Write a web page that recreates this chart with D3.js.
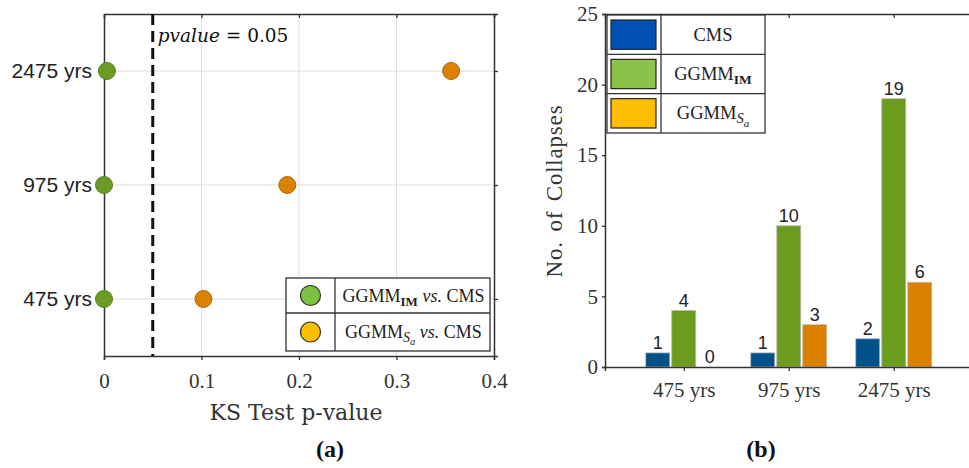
<!DOCTYPE html>
<html>
<head>
<meta charset="utf-8">
<script src="https://cdn.jsdelivr.net/npm/d3@7"></script>
<style>
  html, body { margin: 0; padding: 0; background: #fff; }
  svg { display: block; }
</style>
</head>
<body>
<svg id="fig" width="969" height="468"></svg>
<script>
// Return periods shared by both panels
const returnPeriods = ["475 yrs", "975 yrs", "2475 yrs"];

// (a) KS test p-values against CMS
const pvalIM = [0.0, 0.0, 0.003];
const pvalSa = [0.102, 0.188, 0.356];
const pTicks = [0, 0.1, 0.2, 0.3, 0.4];
const pThreshold = 0.05;

// (b) number of collapses per method
const seriesNames = ["CMS", "GGMM_IM", "GGMM_Sa"];
const collapseCMS = [1, 1, 2];
const collapseIM = [4, 10, 19];
const collapseSa = [0, 3, 6];
const countTicks = [0, 5, 10, 15, 20, 25];

const serif = "'Liberation Serif', 'DejaVu Serif', serif";
const wideSerif = "'DejaVu Serif', 'Liberation Serif', serif";
const sans = "'Liberation Sans', Arial, sans-serif";
const axisColor = "#333";
const gridColor = "#dedede";

const svg = d3.select("#fig");

// ---------- Panel (a): dot plot ----------
const A = { left: 104, right: 494, top: 14, bottom: 356 };
const xA = d3.scaleLinear().domain([0, 0.4]).range([A.left, A.right]);
const yA = d3.scalePoint().domain(returnPeriods).range([A.bottom, A.top]).padding(0.5);

const gA = svg.append("g");

// grid
gA.selectAll("line.vgrid").data(pTicks.slice(1, -1)).join("line")
  .attr("x1", d => xA(d)).attr("x2", d => xA(d))
  .attr("y1", A.top).attr("y2", A.bottom)
  .attr("stroke", gridColor).attr("stroke-width", 1);
gA.selectAll("line.hgrid").data(returnPeriods).join("line")
  .attr("x1", A.left).attr("x2", A.right)
  .attr("y1", d => yA(d)).attr("y2", d => yA(d))
  .attr("stroke", gridColor).attr("stroke-width", 1);

// bottom axis
const axA = gA.append("g").attr("transform", `translate(0,${A.bottom})`)
  .call(d3.axisBottom(xA).tickValues(pTicks).tickSize(4).tickPadding(13)
    .tickFormat(d => d === 0 ? "0" : d3.format(".1f")(d)));
axA.select(".domain").attr("stroke", axisColor).attr("stroke-width", 1.5);
axA.selectAll(".tick line").attr("stroke", axisColor).attr("stroke-width", 1.3);
axA.selectAll(".tick text").attr("font-family", serif).attr("font-size", 21).attr("fill", "#333");

// top axis (ticks inward)
const axAt = gA.append("g").attr("transform", `translate(0,${A.top})`)
  .call(d3.axisTop(xA).tickValues(pTicks).tickSize(-4).tickFormat(""));
axAt.select(".domain").attr("stroke", axisColor).attr("stroke-width", 1.5);
axAt.selectAll(".tick line").attr("stroke", axisColor).attr("stroke-width", 1.3);

// left axis
const ayA = gA.append("g").attr("transform", `translate(${A.left},0)`)
  .call(d3.axisLeft(yA).tickSize(0).tickPadding(12));
ayA.select(".domain").attr("stroke", axisColor).attr("stroke-width", 1.5);
ayA.selectAll(".tick text").attr("font-family", sans).attr("font-size", 21).attr("fill", "#222");

// right axis
const ayAr = gA.append("g").attr("transform", `translate(${A.right},0)`)
  .call(d3.axisRight(yA).tickSize(4).tickFormat(""));
ayAr.select(".domain").attr("stroke", axisColor).attr("stroke-width", 1.5);
ayAr.selectAll(".tick line").attr("stroke", axisColor).attr("stroke-width", 1.3);

// threshold line
gA.append("line")
  .attr("x1", xA(pThreshold)).attr("x2", xA(pThreshold))
  .attr("y1", A.top).attr("y2", A.bottom)
  .attr("stroke", "#111").attr("stroke-width", 3)
  .attr("stroke-dasharray", "11,6");

const pt = gA.append("text")
  .attr("x", xA(pThreshold) + 5).attr("y", 42)
  .attr("font-family", wideSerif).attr("font-size", 18.5).attr("fill", "#111");
pt.append("tspan").attr("font-style", "italic").text("pvalue");
pt.append("tspan").text(" = ");
pt.append("tspan").text(pThreshold.toFixed(2));

// points
gA.selectAll("circle.sa").data(returnPeriods).join("circle")
  .attr("cx", (d, i) => xA(pvalSa[i])).attr("cy", d => yA(d)).attr("r", 8.5)
  .attr("fill", "#dc8200").attr("stroke", "#a86a10").attr("stroke-width", 1);
gA.selectAll("circle.im").data(returnPeriods).join("circle")
  .attr("cx", (d, i) => xA(pvalIM[i])).attr("cy", d => yA(d)).attr("r", 8.5)
  .attr("fill", "#6b9b22").attr("stroke", "#55801a").attr("stroke-width", 1);

// legend (a)
const LA = { x0: 286, x1: 490, xd: 335, y0: 278, ym: 313, y1: 351 };
const legA = gA.append("g");
legA.append("rect").attr("x", LA.x0).attr("y", LA.y0)
  .attr("width", LA.x1 - LA.x0).attr("height", LA.y1 - LA.y0)
  .attr("fill", "#fff").attr("stroke", "#333").attr("stroke-width", 1.3);
legA.append("line").attr("x1", LA.xd).attr("x2", LA.xd).attr("y1", LA.y0).attr("y2", LA.y1)
  .attr("stroke", "#333").attr("stroke-width", 1.3);
legA.append("line").attr("x1", LA.x0).attr("x2", LA.x1).attr("y1", LA.ym).attr("y2", LA.ym)
  .attr("stroke", "#333").attr("stroke-width", 1.3);
const legAItems = [
  { fill: "#7cc142", sub: "IM", cy: (LA.y0 + LA.ym) / 2 },
  { fill: "#ffbe00", sub: "Sa", cy: (LA.ym + LA.y1) / 2 }
];
legAItems.forEach(it => {
  legA.append("circle").attr("cx", (LA.x0 + LA.xd) / 2).attr("cy", it.cy).attr("r", 10)
    .attr("fill", it.fill).attr("stroke", "#333").attr("stroke-width", 1.2);
  const t = legA.append("text").attr("x", (LA.xd + LA.x1) / 2 + 1).attr("y", it.cy + 6)
    .attr("text-anchor", "middle")
    .attr("font-family", serif).attr("font-size", 18).attr("fill", "#222");
  t.append("tspan").text("GGMM");
  if (it.sub === "IM") {
    t.append("tspan").attr("font-size", 13).attr("font-weight", "bold").attr("dy", 4).text("IM");
    t.append("tspan").attr("dy", -4).text(" ");
  } else {
    t.append("tspan").attr("font-size", 14).attr("font-style", "italic").attr("dy", 4).text("S");
    t.append("tspan").attr("font-size", 10.5).attr("font-style", "italic").attr("dy", 3).text("a");
    t.append("tspan").attr("dy", -7).text(" ");
  }
  t.append("tspan").attr("font-style", "italic").text("vs.");
  t.append("tspan").text(" CMS");
});

// axis title & panel label
gA.append("text").attr("x", 296).attr("y", 420)
  .attr("text-anchor", "middle").attr("font-family", wideSerif).attr("font-size", 22)
  .attr("fill", "#333").text("KS Test p-value");
gA.append("text").attr("x", 330).attr("y", 457)
  .attr("text-anchor", "middle").attr("font-family", serif).attr("font-size", 24)
  .attr("font-weight", "bold").attr("fill", "#111").text("(a)");

// ---------- Panel (b): grouped bars ----------
const B = { left: 605, right: 972.5, top: 14, bottom: 367 };
const xB = d3.scaleLinear().domain([0.25, 3.75]).range([B.left, B.right]);
const yB = d3.scaleLinear().domain([0, 25]).range([B.bottom, B.top]);
const sub = d3.scaleBand().domain(seriesNames).range([-38, 38]).paddingInner(2 / 26);

const seriesValues = { CMS: collapseCMS, GGMM_IM: collapseIM, GGMM_Sa: collapseSa };
const barColors = { CMS: "#00518a", GGMM_IM: "#6c9c1e", GGMM_Sa: "#da8200" };
const legColors = { CMS: "#0050b4", GGMM_IM: "#8bc34a", GGMM_Sa: "#ffbf00" };

const gB = svg.append("g");

// bars and value labels
seriesNames.forEach(s => {
  const vals = seriesValues[s];
  gB.selectAll(null).data(returnPeriods).join("rect")
    .attr("x", (d, i) => xB(i + 1) + sub(s))
    .attr("y", (d, i) => yB(vals[i]))
    .attr("width", sub.bandwidth())
    .attr("height", (d, i) => yB(0) - yB(vals[i]))
    .attr("fill", barColors[s]).attr("stroke", "#bbb").attr("stroke-width", 0.8);
  gB.selectAll(null).data(returnPeriods).join("text")
    .attr("x", (d, i) => xB(i + 1) + sub(s) + sub.bandwidth() / 2)
    .attr("y", (d, i) => yB(vals[i]) - 4)
    .attr("text-anchor", "middle")
    .attr("font-family", sans).attr("font-size", 18).attr("fill", "#222")
    .text((d, i) => vals[i]);
});

// left axis
const ayB = gB.append("g").attr("transform", `translate(${B.left},0)`)
  .call(d3.axisLeft(yB).tickValues(countTicks).tickSize(3).tickPadding(4));
ayB.select(".domain").attr("stroke", axisColor).attr("stroke-width", 1.5);
ayB.selectAll(".tick line").attr("stroke", axisColor).attr("stroke-width", 1.3);
ayB.selectAll(".tick text").attr("font-family", serif).attr("font-size", 21).attr("fill", "#333");

// bottom axis
const axB = gB.append("g").attr("transform", `translate(0,${B.bottom})`)
  .call(d3.axisBottom(xB).tickValues([1, 2, 3]).tickSize(4).tickPadding(11)
    .tickFormat((d, i) => returnPeriods[i]));
axB.select(".domain").attr("stroke", axisColor).attr("stroke-width", 1.5);
axB.selectAll(".tick line").attr("stroke", axisColor).attr("stroke-width", 1.3);
axB.selectAll(".tick text").attr("font-family", serif).attr("font-size", 21).attr("fill", "#333");

// top axis (ticks inward)
const axBt = gB.append("g").attr("transform", `translate(0,${B.top})`)
  .call(d3.axisTop(xB).tickValues([1, 2, 3]).tickSize(-4).tickFormat(""));
axBt.select(".domain").attr("stroke", axisColor).attr("stroke-width", 1.5);
axBt.selectAll(".tick line").attr("stroke", axisColor).attr("stroke-width", 1.3);

// y title
gB.append("text")
  .attr("transform", "translate(562,191) rotate(-90)")
  .attr("text-anchor", "middle").attr("font-family", serif).attr("font-size", 23)
  .attr("letter-spacing", 0.8).attr("word-spacing", 3)
  .attr("fill", "#333").text("No. of Collapses");

// legend (b)
const LB = { x0: 607, x1: 765, xd: 661, y0: 15, y1: 133 };
const rowH = (LB.y1 - LB.y0) / seriesNames.length;
const legB = gB.append("g");
legB.append("rect").attr("x", LB.x0).attr("y", LB.y0)
  .attr("width", LB.x1 - LB.x0).attr("height", LB.y1 - LB.y0)
  .attr("fill", "#fff").attr("stroke", "#333").attr("stroke-width", 1.3);
legB.append("line").attr("x1", LB.xd).attr("x2", LB.xd).attr("y1", LB.y0).attr("y2", LB.y1)
  .attr("stroke", "#333").attr("stroke-width", 1.3);
seriesNames.forEach((s, i) => {
  const ry = LB.y0 + i * rowH;
  if (i > 0) {
    legB.append("line").attr("x1", LB.x0).attr("x2", LB.x1).attr("y1", ry).attr("y2", ry)
      .attr("stroke", "#333").attr("stroke-width", 1.3);
  }
  legB.append("rect").attr("x", LB.x0 + 4).attr("y", ry + 5)
    .attr("width", LB.xd - LB.x0 - 9).attr("height", rowH - 10)
    .attr("fill", legColors[s]).attr("stroke", "#222").attr("stroke-width", 1.2);
  const t = legB.append("text").attr("x", (LB.xd + LB.x1) / 2).attr("y", ry + rowH / 2 + 6)
    .attr("text-anchor", "middle").attr("font-family", serif).attr("font-size", 18.5).attr("fill", "#222");
  if (s === "CMS") {
    t.text("CMS");
  } else if (s === "GGMM_IM") {
    t.append("tspan").text("GGMM");
    t.append("tspan").attr("font-size", 13.5).attr("font-weight", "bold").attr("dy", 4).text("IM");
  } else {
    t.append("tspan").text("GGMM");
    t.append("tspan").attr("font-size", 14.5).attr("font-style", "italic").attr("dy", 4).text("S");
    t.append("tspan").attr("font-size", 11).attr("font-style", "italic").attr("dy", 4).text("a");
  }
});

gB.append("text").attr("x", 761).attr("y", 457)
  .attr("text-anchor", "middle").attr("font-family", serif).attr("font-size", 24)
  .attr("font-weight", "bold").attr("fill", "#111").text("(b)");
</script>
</body>
</html>
